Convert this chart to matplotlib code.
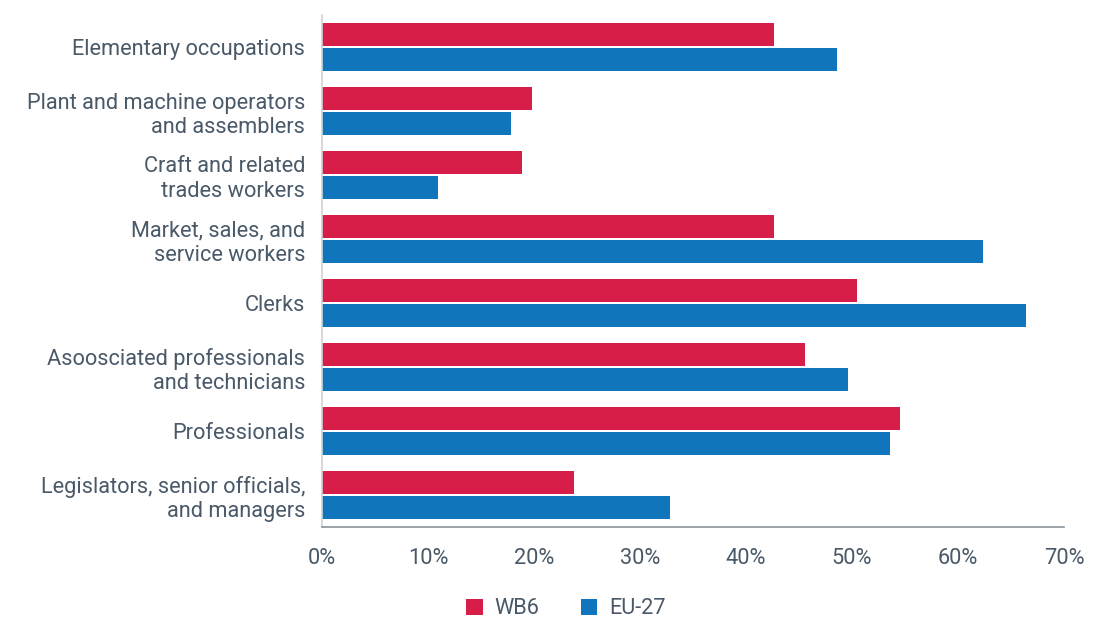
import matplotlib

matplotlib.use("Agg")
import matplotlib.pyplot as plt
import numpy as np

plt.rcParams["font.family"] = ["Roboto", "DejaVu Sans"]

categories = [
    "Elementary occupations",
    "Plant and machine operators\nand assemblers",
    "Craft and related\ntrades workers",
    "Market, sales, and\nservice workers",
    "Clerks",
    "Asoosciated professionals\nand technicians",
    "Professionals",
    "Legislators, senior officials,\nand managers",
]
wb6 = [42.6, 19.8, 18.9, 42.6, 50.5, 45.6, 54.5, 23.8]
eu27 = [48.6, 17.8, 10.9, 62.4, 66.4, 49.6, 53.6, 32.8]
xticks = [0, 10, 20, 30, 40, 50, 60, 70]

RED = "#D61E48"
BLUE = "#1175BC"
TEXT = "#4A5968"
FS = 15.7

fig = plt.figure(figsize=(10.94, 6.2), dpi=100)
ax = fig.add_axes([322 / 1094, 1 - 527 / 620, (1064 - 322) / 1094, (527 - 15) / 620])

y = np.arange(len(categories))
h = 0.36
ax.barh(y - h / 2 - 0.015, wb6, height=h, color=RED, label="WB6")
ax.barh(y + h / 2 + 0.015, eu27, height=h, color=BLUE, label="EU-27")

ax.set_ylim(len(categories) - 0.5, -0.5)
ax.set_xlim(0, 70)
ax.set_yticks(y)
ax.set_yticklabels(categories, fontsize=FS, color=TEXT, linespacing=1.2)
ax.set_xticks(xticks)
ax.set_xticklabels([f"{t}%" for t in xticks], fontsize=FS, color=TEXT)
ax.tick_params(length=0)
ax.tick_params(axis="x", pad=15)
ax.tick_params(axis="y", pad=12)

for s in ["top", "right"]:
    ax.spines[s].set_visible(False)
ax.spines["left"].set_color("#D0D3D6")
ax.spines["left"].set_linewidth(1.2)
ax.spines["bottom"].set_color("#8A939B")
ax.spines["bottom"].set_linewidth(1.2)

leg = fig.legend(
    loc="center",
    bbox_to_anchor=(566 / 1094, 1 - 609 / 620),
    ncol=2,
    frameon=False,
    fontsize=FS,
    handlelength=0.75,
    handleheight=0.75,
    columnspacing=1.9,
    handletextpad=0.55,
)
for t in leg.get_texts():
    t.set_color(TEXT)

fig.savefig("out.png", dpi=100)
